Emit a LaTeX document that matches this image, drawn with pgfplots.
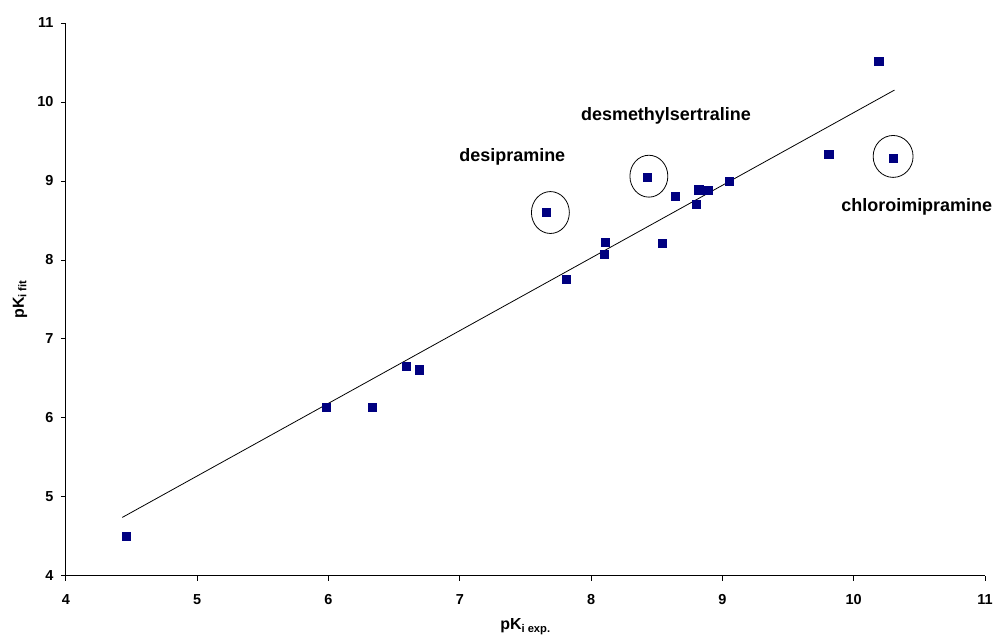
\documentclass[border=0pt]{standalone}
\usepackage{fontspec}
\setmainfont{Liberation Sans}
\usepackage{pgfplots}
\pgfplotsset{compat=1.18}
\definecolor{ptnavy}{RGB}{0,0,128}
\begin{document}
\begin{tikzpicture}
\begin{axis}[
    scale only axis,
    width=921pt, height=554pt,
    xmin=4, xmax=11, ymin=4, ymax=11,
    axis lines=left,
    axis line style={-, black, line width=0.8pt},
    tick align=outside,
    major tick length=5pt,
    tick style={black, line width=0.8pt},
    xtick={4,...,11}, ytick={4,...,11},
    /pgf/number format/assume math mode=true,
    ticklabel style={font=\bfseries\fontsize{14.5}{16}\selectfont},
    xticklabel style={yshift=-10pt},
    yticklabel style={xshift=-4pt},
    xlabel={\textbf{pK\textsubscript{i exp.}}},
    ylabel={\textbf{pK\textsubscript{i fit}}},
    label style={font=\bfseries\fontsize{16}{18}\selectfont},
    xlabel style={at={(axis description cs:0.5,0)}, anchor=center, yshift=-51pt},
    ylabel style={at={(axis description cs:0,0.5)}, anchor=center, rotate=0, yshift=46pt},
    clip=false,
]
% fitted line
\addplot[black, line width=0.8pt] coordinates {(4.43,4.74) (10.31,10.15)};
% data
\addplot[only marks, mark=square*, mark size=4.1pt, color=ptnavy] coordinates {
(4.46,4.50) (5.98,6.14) (6.33,6.14) (6.59,6.65) (6.69,6.61)
(7.81,7.76) (7.66,8.60) (8.10,8.07) (8.11,8.22) (8.43,9.05)
(8.54,8.21) (8.64,8.81) (8.80,8.71) (8.82,8.89) (8.89,8.88)
(9.05,9.00) (9.81,9.34) (10.19,10.52) (10.30,9.29)
};
% circled outliers
\draw[black, line width=0.8pt] (axis cs:7.69,8.60) ellipse [x radius=19pt, y radius=21pt];
\draw[black, line width=0.8pt] (axis cs:8.44,9.06) ellipse [x radius=19pt, y radius=21pt];
\draw[black, line width=0.8pt] (axis cs:10.30,9.31) ellipse [x radius=20pt, y radius=21pt];
\node[font=\bfseries\fontsize{18}{20}\selectfont] at (axis cs:7.40,9.31) {desipramine};
\node[font=\bfseries\fontsize{18}{20}\selectfont] at (axis cs:8.57,9.82) {desmethylsertraline};
\node[font=\bfseries\fontsize{18}{20}\selectfont] at (axis cs:10.48,8.67) {chloroimipramine};
\end{axis}
\useasboundingbox (current axis.south west) ++(-66pt,-63pt) rectangle ([xshift=9pt,yshift=23pt]current axis.north east);
\end{tikzpicture}
\end{document}
